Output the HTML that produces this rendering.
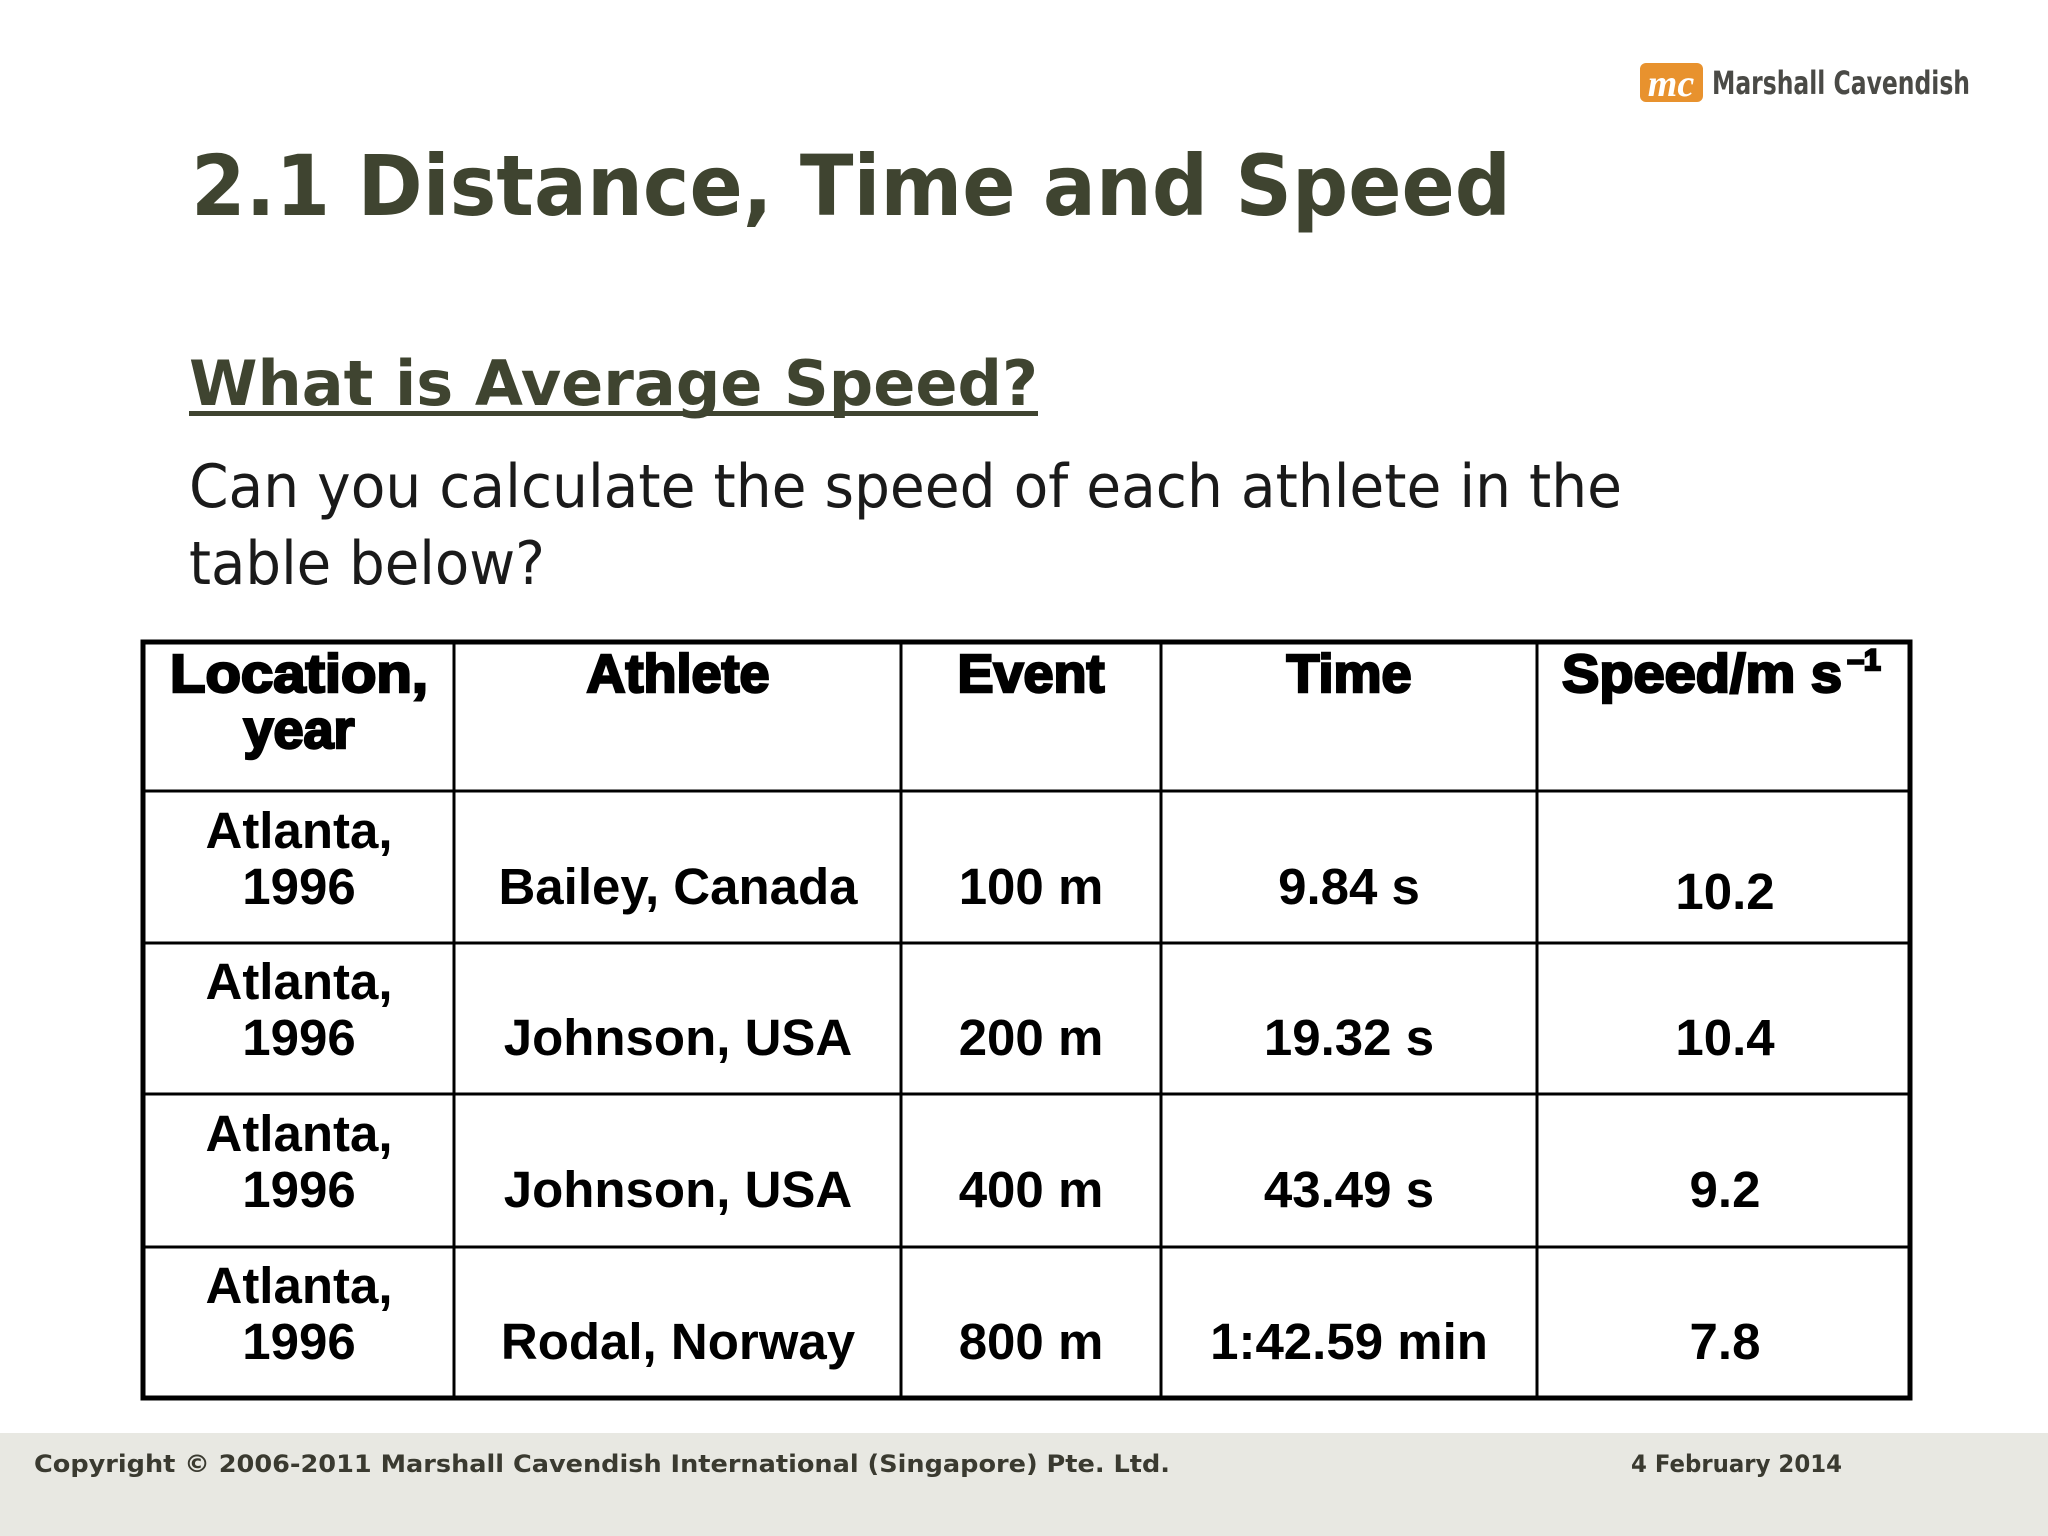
<!DOCTYPE html>
<html><head><meta charset="utf-8"><style>
html,body{margin:0;padding:0;background:#fff;}
svg{display:block;}
</style></head><body>
<svg width="2048" height="1536" viewBox="0 0 2048 1536" xmlns="http://www.w3.org/2000/svg">
<rect width="2048" height="1536" fill="#fff"/>
<g>
<rect x="1640" y="63" width="63" height="39" rx="6" fill="#e8922e"/>
<text x="1671" y="96" text-anchor="middle" font-family="Liberation Serif, serif" font-style="italic" font-weight="bold" font-size="38" fill="#fff">mc</text>
<text x="1712" y="94" font-family="DejaVu Sans, sans-serif" font-weight="bold" font-size="32" fill="#4a4a46" textLength="258" lengthAdjust="spacingAndGlyphs">Marshall Cavendish</text>
</g>
<text x="191" y="215" font-family="DejaVu Sans, sans-serif" font-weight="bold" font-size="84" fill="#3f4430" textLength="1320" lengthAdjust="spacingAndGlyphs">2.1 Distance, Time and Speed</text>
<text x="189" y="405" font-family="DejaVu Sans, sans-serif" font-weight="bold" font-size="62" fill="#3f4430" textLength="849" lengthAdjust="spacingAndGlyphs">What is Average Speed?</text>
<rect x="189" y="411" width="849" height="5" fill="#3f4430"/>
<text x="189" y="507" font-family="DejaVu Sans, sans-serif" font-size="60" fill="#1a1a1a" textLength="1433" lengthAdjust="spacingAndGlyphs">Can you calculate the speed of each athlete in the</text>
<text x="189" y="584" font-family="DejaVu Sans, sans-serif" font-size="60" fill="#1a1a1a" textLength="356" lengthAdjust="spacingAndGlyphs">table below?</text>

<g font-family="Liberation Sans, Arial, sans-serif" font-weight="bold" fill="#000" text-anchor="middle">
<rect x="143" y="642" width="1767" height="756" fill="none" stroke="#000" stroke-width="5"/>
<g stroke="#000" stroke-width="3">
<line x1="454" y1="642" x2="454" y2="1398"/><line x1="901" y1="642" x2="901" y2="1398"/>
<line x1="1161" y1="642" x2="1161" y2="1398"/><line x1="1537" y1="642" x2="1537" y2="1398"/>
<line x1="143" y1="791" x2="1910" y2="791"/><line x1="143" y1="943" x2="1910" y2="943"/>
<line x1="143" y1="1094" x2="1910" y2="1094"/><line x1="143" y1="1247" x2="1910" y2="1247"/>
</g>
<g font-size="54" stroke="#000" stroke-width="2.5">
<text x="299" y="692" textLength="258" lengthAdjust="spacingAndGlyphs">Location,</text><text x="299" y="748">year</text>
<text x="678" y="692">Athlete</text>
<text x="1031" y="692">Event</text>
<text x="1349" y="692">Time</text>
<text x="1702" y="692" textLength="280" lengthAdjust="spacingAndGlyphs">Speed/m s</text><text x="1864" y="670" font-size="30">–1</text>
</g>
<g font-size="51">
<text x="299" y="848">Atlanta,</text><text x="299" y="904">1996</text>
<text x="678" y="904">Bailey, Canada</text><text x="1031" y="904">100 m</text>
<text x="1349" y="904">9.84 s</text><text x="1725" y="909">10.2</text>
</g>
<g font-size="51">
<text x="299" y="999">Atlanta,</text><text x="299" y="1055">1996</text>
<text x="678" y="1055">Johnson, USA</text><text x="1031" y="1055">200 m</text>
<text x="1349" y="1055">19.32 s</text><text x="1725" y="1055">10.4</text>
</g>
<g font-size="51">
<text x="299" y="1151">Atlanta,</text><text x="299" y="1207">1996</text>
<text x="678" y="1207">Johnson, USA</text><text x="1031" y="1207">400 m</text>
<text x="1349" y="1207">43.49 s</text><text x="1725" y="1207">9.2</text>
</g>
<g font-size="51">
<text x="299" y="1303">Atlanta,</text><text x="299" y="1359">1996</text>
<text x="678" y="1359">Rodal, Norway</text><text x="1031" y="1359">800 m</text>
<text x="1349" y="1359">1:42.59 min</text><text x="1725" y="1359">7.8</text>
</g>
</g>

<rect x="0" y="1433" width="2048" height="103" fill="#e8e8e2"/>
<text x="34" y="1472" font-family="DejaVu Sans, sans-serif" font-weight="bold" font-size="24" fill="#3a3a30" textLength="1136" lengthAdjust="spacingAndGlyphs">Copyright © 2006-2011 Marshall Cavendish International (Singapore) Pte. Ltd.</text>
<text x="1631" y="1472" font-family="DejaVu Sans, sans-serif" font-weight="bold" font-size="24" fill="#3a3a30" textLength="211" lengthAdjust="spacingAndGlyphs">4 February 2014</text>
</svg>
</body></html>
